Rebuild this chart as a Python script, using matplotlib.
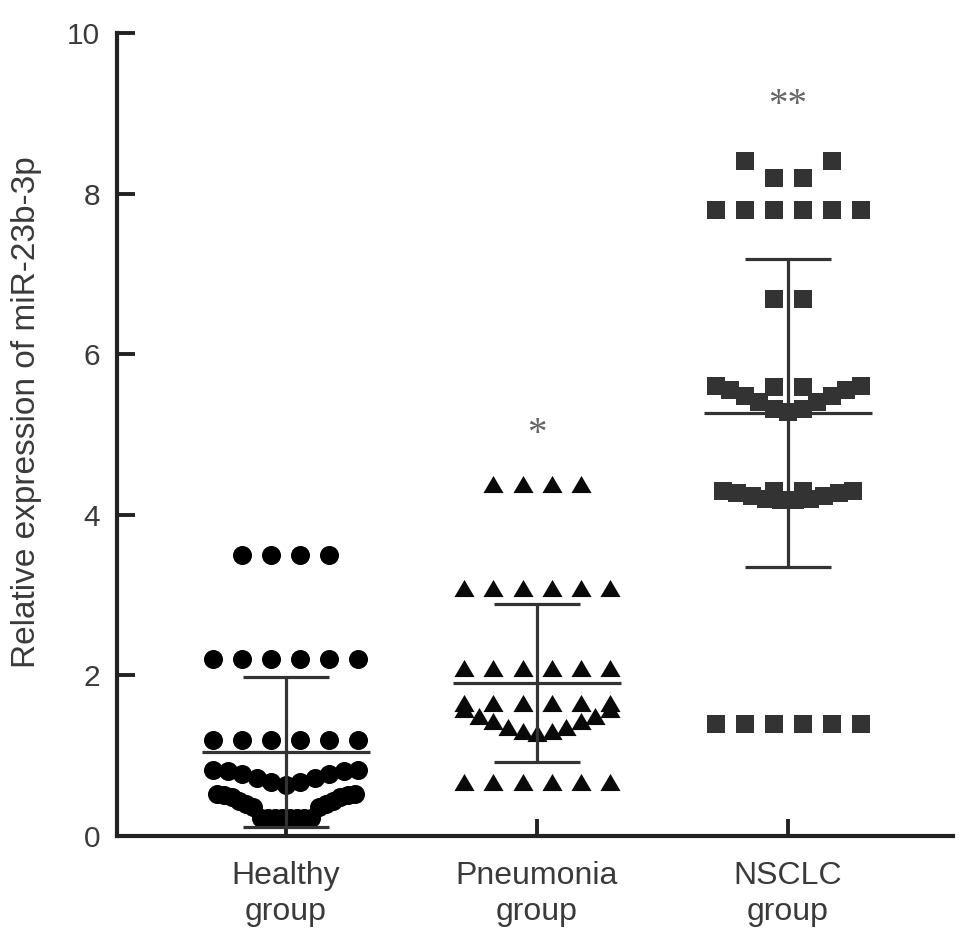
import math
import numpy as np
import matplotlib
matplotlib.use("Agg")
import matplotlib.pyplot as plt

plt.rcParams['font.family'] = ['Liberation Sans', 'DejaVu Sans']

# groups on the x axis
groups = ["Healthy\ngroup", "Pneumonia\ngroup", "NSCLC\ngroup"]

# values, one list per horizontal row of points
healthy_rows = [
    [3.5, 3.5, 3.5, 3.5],
    [2.2, 2.2, 2.2, 2.2, 2.2, 2.2],
    [1.2, 1.2, 1.2, 1.2, 1.2, 1.2],
    [0.82, 0.81, 0.77, 0.72, 0.67, 0.63, 0.67, 0.72, 0.77, 0.81, 0.82],
    [0.52, 0.51, 0.48, 0.44, 0.4, 0.36, 0.22, 0.22, 0.22, 0.22,
     0.22, 0.22, 0.22, 0.22, 0.36, 0.4, 0.44, 0.48, 0.51, 0.52],
]
pneumonia_rows = [
    [4.38, 4.38, 4.38, 4.38],
    [3.085, 3.085, 3.085, 3.085, 3.085, 3.085],
    [2.09, 2.09, 2.09, 2.09, 2.09, 2.09],
    [1.66, 1.66, 1.66, 1.66, 1.66, 1.66],
    [1.58, 1.5, 1.43, 1.36, 1.31, 1.28, 1.31, 1.36, 1.43, 1.5, 1.58],
    [0.676, 0.676, 0.676, 0.676, 0.676, 0.676],
]
nsclc_rows = [
    [8.4, 8.4, 8.19, 8.19],
    [7.79, 7.79, 7.79, 7.79, 7.79, 7.79],
    [6.69, 6.69],
    [5.59, 5.59],
    [5.6, 5.55, 5.48, 5.4, 5.32, 5.28, 5.32, 5.4, 5.48, 5.55, 5.6],
    [4.3, 4.3],
    [4.3, 4.27, 4.23, 4.2, 4.18, 4.18, 4.2, 4.23, 4.27, 4.3],
    [1.395, 1.395, 1.395, 1.395, 1.395, 1.395],
]

# mean and SD lines
means = [1.042, 1.907, 5.265]
sds = [0.934, 0.982, 1.92]

# significance marks
stars = ["", "*", "**"]
star_y = [0, 5.0, 9.1]

all_rows = [healthy_rows, pneumonia_rows, nsclc_rows]

tri = [(-1, -0.85), (1, -0.85), (0, 0.85)]
markers = [("o", 13.7, "#000000"), (tri, 14.5, "#0a0a0a"), ("s", 13.0, "#333333")]

SPACING = 29 / 251  # gap between neighbouring points, in group units


def row_offsets(vals):
    # spread a row around the centre, lowest values in the middle
    n = len(vals)
    step = SPACING / math.ceil(n / 6)
    slots = (np.arange(n) - (n - 1) / 2) * step
    slot_order = np.argsort(np.abs(slots), kind="stable")
    ys = np.sort(np.array(vals, dtype=float))
    return slots[slot_order], ys


fig = plt.figure(figsize=(9.69, 9.38), dpi=100)
ax = fig.add_axes([117 / 969, 102 / 938, (953 - 117) / 969, (836 - 33) / 938])

for gi, rows in enumerate(all_rows):
    mk, ms, col = markers[gi]
    for row in rows:
        dx, ys = row_offsets(row)
        ax.plot(gi + dx, ys, linestyle="none", marker=mk, markersize=ms,
                color=col, markeredgewidth=0, zorder=2)

# mean +- SD
x = np.arange(len(groups))
lo = np.array(means) - np.array(sds)
hi = np.array(means) + np.array(sds)
ax.hlines(means, x - 0.335, x + 0.335, color="#333333", lw=2.3, zorder=3)
ax.vlines(x, lo, hi, color="#333333", lw=2.3, zorder=3)
ax.hlines(hi, x - 0.171, x + 0.171, color="#333333", lw=2.3, zorder=3)
ax.hlines(lo, x - 0.171, x + 0.171, color="#333333", lw=2.3, zorder=3)

for gi, s in enumerate(stars):
    if s:
        ax.text(gi, star_y[gi], s, ha="center", va="center", fontsize=28,
                family=["Liberation Serif", "DejaVu Serif"], color="#666666")

ax.set_xlim(-0.673, 2.657)
ax.set_ylim(0, 10)
ax.set_yticks([0, 2, 4, 6, 8, 10])
ax.set_xticks(x)
ax.set_xticklabels(groups, fontsize=23, color="#3a3a3a", linespacing=1.25)
ax.tick_params(axis="y", direction="in", length=13, width=2.8, labelsize=21.5,
               labelcolor="#3a3a3a", pad=12, color="#222222")
ax.tick_params(axis="x", direction="in", length=12, width=2.8, pad=18, color="#222222")

for side in ["top", "right"]:
    ax.spines[side].set_visible(False)
for side in ["left", "bottom"]:
    ax.spines[side].set_linewidth(3)
    ax.spines[side].set_color("#222222")

fig.text(27 / 969, 1 - 412 / 938, "Relative expression of miR-23b-3p", rotation=90,
         ha="center", va="center", fontsize=24, color="#3a3a3a")

fig.savefig("out.png", dpi=100)
